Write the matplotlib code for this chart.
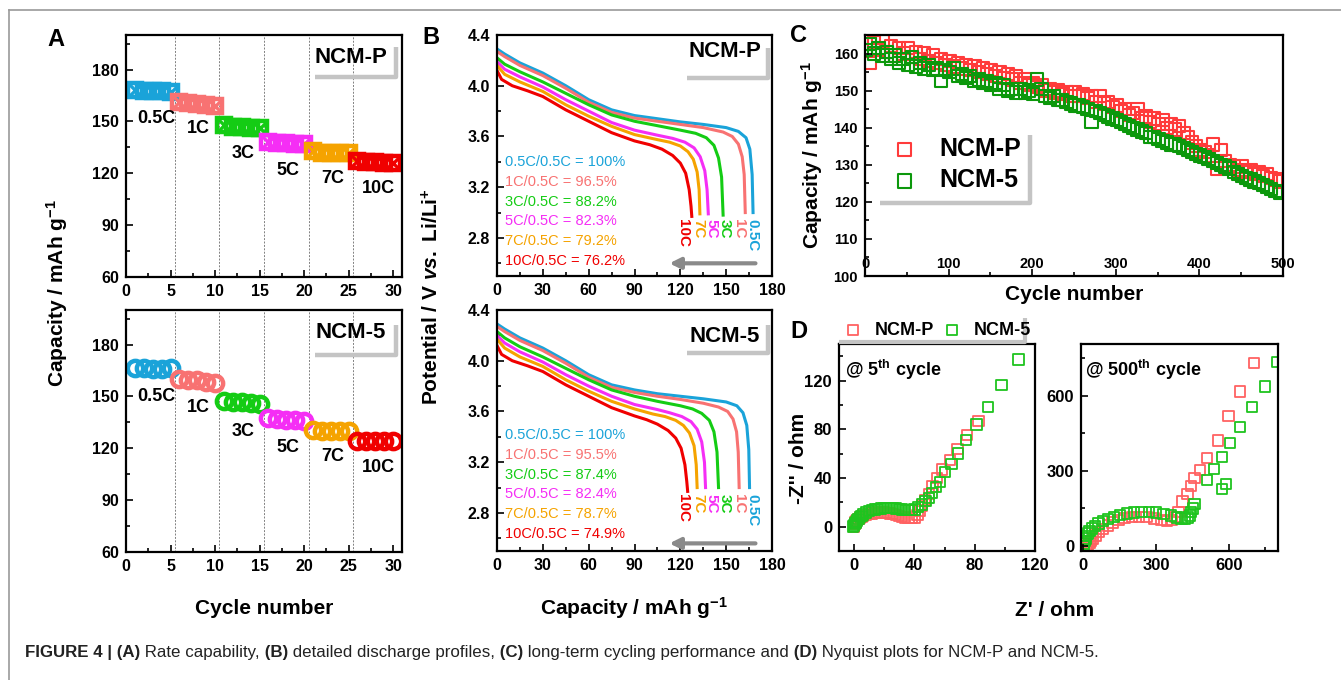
import matplotlib
matplotlib.use("Agg")
import matplotlib.pyplot as plt
import numpy as np
from matplotlib.ticker import MultipleLocator
from matplotlib.lines import Line2D

plt.rcParams["font.family"] = ["Liberation Sans", "DejaVu Sans"]
plt.rcParams["font.weight"] = "bold"
plt.rcParams["axes.labelweight"] = "bold"
plt.rcParams["mathtext.fontset"] = "custom"
plt.rcParams["mathtext.rm"] = "Liberation Sans:bold"
plt.rcParams["mathtext.it"] = "Liberation Sans:italic:bold"
plt.rcParams["mathtext.bf"] = "Liberation Sans:bold"
plt.rcParams["mathtext.default"] = "regular"

# ---------------- data ----------------
rate_labels = ["0.5C", "1C", "3C", "5C", "7C", "10C"]
rate_colors = ["#1aa3d9", "#f87272", "#14cc14", "#f52ef5", "#f5a300", "#f00000"]

# (A) rate capability, 5 cycles per rate
cycles_rate = np.arange(1, 31)
cap_rate_p = [168.0, 167.5, 167.5, 167.5, 167.0,
              161.0, 160.5, 160.0, 159.5, 159.0,
              148.0, 147.0, 146.5, 146.0, 146.0,
              138.0, 137.5, 137.5, 137.0, 137.0,
              133.0, 132.0, 132.0, 131.5, 131.5,
              127.0, 126.5, 126.5, 126.0, 126.0]
cap_rate_5 = [166.5, 166.5, 166.0, 166.0, 166.5,
              160.0, 159.5, 159.5, 158.5, 158.0,
              147.5, 147.0, 146.5, 146.0, 145.5,
              137.5, 137.0, 136.5, 136.5, 136.0,
              130.5, 130.0, 130.0, 130.0, 130.0,
              124.5, 124.5, 124.5, 124.5, 124.5]
rate_bounds = [5.5, 10.5, 15.5, 20.5, 25.5]

# (B) discharge profiles: capacity (mAh/g) and potential (V)
dis_cap_p = [
    [0, 5, 15, 30, 45, 60, 75, 90, 105, 120, 135, 150, 158, 163, 165.5, 167, 167.6],
    [0, 5, 15, 30, 45, 60, 75, 90, 105, 120, 135, 148, 154, 158, 160.5, 161.8, 162.5],
    [0, 5, 15, 30, 45, 60, 75, 90, 105, 120, 130, 137, 142, 145, 147, 148],
    [0, 5, 15, 30, 45, 60, 75, 90, 105, 115, 123, 129, 133, 136, 137.5, 138.3],
    [0, 5, 15, 30, 45, 60, 75, 90, 105, 113, 120, 125, 128.5, 131, 132.3, 132.8],
    [0, 3, 10, 20, 30, 45, 60, 75, 90, 100, 108, 115, 120, 123.5, 125.8, 127, 127.5],
]
dis_v_p = [
    [4.29, 4.25, 4.18, 4.10, 4.00, 3.89, 3.81, 3.765, 3.74, 3.715, 3.695, 3.67, 3.64, 3.59, 3.50, 3.30, 3.00],
    [4.27, 4.23, 4.16, 4.08, 3.98, 3.87, 3.79, 3.745, 3.72, 3.695, 3.67, 3.635, 3.60, 3.54, 3.44, 3.30, 3.00],
    [4.22, 4.17, 4.11, 4.03, 3.94, 3.85, 3.77, 3.72, 3.685, 3.65, 3.625, 3.59, 3.53, 3.43, 3.28, 2.98],
    [4.19, 4.13, 4.07, 3.99, 3.89, 3.80, 3.71, 3.65, 3.61, 3.585, 3.555, 3.51, 3.44, 3.33, 3.18, 2.99],
    [4.16, 4.09, 4.03, 3.955, 3.85, 3.76, 3.68, 3.615, 3.575, 3.555, 3.525, 3.48, 3.42, 3.32, 3.18, 2.99],
    [4.12, 4.05, 4.00, 3.96, 3.915, 3.81, 3.72, 3.63, 3.565, 3.535, 3.50, 3.45, 3.39, 3.31, 3.18, 3.05, 2.97],
]
dis_cap_5 = [
    [0, 5, 15, 30, 45, 60, 75, 90, 105, 120, 135, 150, 157, 161, 163.5, 164.8, 165.3],
    [0, 5, 15, 30, 45, 60, 75, 90, 105, 120, 135, 145, 151, 154.5, 156.8, 157.9, 158.5],
    [0, 5, 15, 30, 45, 60, 75, 90, 105, 120, 128, 134, 139, 142, 144, 145],
    [0, 5, 15, 30, 45, 60, 75, 90, 105, 113, 121, 127, 131, 134, 135.8, 136.5],
    [0, 5, 15, 30, 45, 60, 75, 90, 102, 110, 117, 122, 126, 129, 130.4, 131],
    [0, 3, 10, 20, 30, 45, 60, 75, 90, 98, 105, 112, 117, 120.5, 123, 124.2, 124.8],
]
dis_v_5 = [
    [4.29, 4.25, 4.18, 4.10, 4.00, 3.89, 3.81, 3.77, 3.74, 3.72, 3.70, 3.675, 3.645, 3.59, 3.49, 3.30, 3.00],
    [4.27, 4.23, 4.16, 4.08, 3.98, 3.87, 3.79, 3.75, 3.72, 3.695, 3.665, 3.635, 3.60, 3.54, 3.44, 3.28, 3.00],
    [4.23, 4.18, 4.11, 4.03, 3.94, 3.85, 3.77, 3.72, 3.68, 3.645, 3.62, 3.585, 3.53, 3.44, 3.28, 3.00],
    [4.20, 4.14, 4.07, 3.99, 3.89, 3.80, 3.72, 3.655, 3.615, 3.59, 3.56, 3.52, 3.46, 3.36, 3.20, 3.00],
    [4.17, 4.10, 4.03, 3.955, 3.85, 3.76, 3.68, 3.62, 3.58, 3.56, 3.53, 3.49, 3.43, 3.33, 3.18, 3.00],
    [4.12, 4.05, 4.00, 3.96, 3.915, 3.81, 3.72, 3.63, 3.565, 3.535, 3.50, 3.45, 3.39, 3.31, 3.18, 3.05, 2.97],
]
ratio_p = ["0.5C/0.5C = 100%", "1C/0.5C = 96.5%", "3C/0.5C = 88.2%",
           "5C/0.5C = 82.3%", "7C/0.5C = 79.2%", "10C/0.5C = 76.2%"]
ratio_5 = ["0.5C/0.5C = 100%", "1C/0.5C = 95.5%", "3C/0.5C = 87.4%",
           "5C/0.5C = 82.4%", "7C/0.5C = 78.7%", "10C/0.5C = 74.9%"]

# (C) long-term cycling, every 5th cycle
cyc_long_p = [162.5, 157.5, 163.0, 161.0, 163.5, 160.5, 162.0, 159.5, 161.5, 160.0,
              161.5, 159.0, 160.5, 158.5, 160.0, 158.0, 159.5, 157.5, 158.5, 157.0,
              158.0, 156.5, 157.5, 156.0, 157.0, 155.5, 156.5, 155.0, 156.0, 154.5,
              155.5, 154.0, 155.0, 153.5, 154.5, 153.0, 154.0, 152.0, 153.0, 151.5,
              152.0, 151.0, 151.5, 150.0, 150.5, 149.5, 150.0, 149.0, 149.5, 148.5,
              149.5, 148.5, 149.0, 148.0, 148.5, 147.0, 148.5, 146.5, 147.0, 145.5,
              146.0, 144.5, 145.0, 143.5, 144.0, 145.0, 142.5, 143.0, 141.5, 142.5,
              141.0, 142.0, 140.0, 141.0, 139.5, 140.5, 138.5, 137.5, 136.0, 135.0,
              134.0, 133.5, 132.5, 135.5, 129.0, 134.0, 131.0, 130.0, 129.5, 128.5,
              129.5, 128.0, 128.5, 127.5, 128.0, 127.0, 127.5, 126.5, 126.0, 125.5]
cyc_long_5 = [161.0, 162.5, 160.0, 161.5, 159.5, 160.5, 158.5, 159.5, 157.5, 158.5,
              157.0, 159.0, 156.5, 157.5, 156.0, 157.0, 155.5, 156.0, 152.5, 155.5,
              155.0, 156.0, 154.0, 154.5, 153.5, 154.0, 152.5, 153.0, 152.0, 152.5,
              151.5, 152.0, 150.5, 151.5, 150.0, 150.5, 149.5, 150.5, 149.5, 150.0,
              149.0, 153.0, 150.5, 148.5, 148.0, 148.5, 147.5, 147.5, 147.0, 146.5,
              146.0, 146.0, 145.5, 145.0, 141.5, 144.5, 144.0, 143.5, 143.0, 142.5,
              142.0, 141.5, 141.0, 140.5, 140.0, 139.5, 139.0, 138.5, 137.5, 137.5,
              137.0, 136.5, 136.0, 135.5, 135.5, 135.0, 134.5, 134.0, 133.5, 133.0,
              132.5, 132.0, 131.5, 131.0, 130.5, 130.0, 129.5, 129.0, 128.0, 127.5,
              127.0, 126.5, 126.0, 125.5, 125.0, 124.5, 124.0, 123.5, 123.0, 122.5]
cycles_long = np.arange(1, 5 * len(cyc_long_p) + 1, 5)

# (D) Nyquist, 5th cycle
zre_p5 = [0, 0.5, 1, 1.5, 2, 3, 4, 5, 6, 8, 10, 12, 14, 16, 18, 20, 22, 24, 26, 28,
          30, 32, 34, 36, 38,
          40, 42, 43.5, 45, 47, 49.5, 52, 55, 58.5, 63.5, 68.5, 75, 82.5]
zim_p5 = [0, 2, 3.5, 4.5, 5.5, 6.5, 7.5, 8, 8.5, 9.5, 10.2, 10.8, 11.2, 11.5, 11.6, 11.5, 11.2, 10.8, 10.2, 9.5,
          8.8, 8, 7.4, 7, 7,
          7.5, 9.5, 13, 17, 22, 27, 33, 40, 47, 55, 64, 75, 87]
zre_55 = [-0.5, 0, 0.5, 1, 1.5, 2, 3, 4, 5, 6, 8, 10, 12, 14, 16, 18, 20, 22, 24, 26,
          28, 30, 32, 34, 36, 38, 40, 42.5, 45, 47.3, 49.6, 51.8, 54.4, 57.1, 60.4, 64.6,
          68.9, 74.4, 81.1, 88.9, 97.8, 109.1]
zim_55 = [0, 1, 2, 3, 4, 5, 6.5, 8, 9, 10, 11.5, 12.8, 13.6, 14.2, 14.7, 15, 15.2, 15.3, 15.3, 15.2,
          15, 14.6, 14.2, 13.8, 13.5, 13.5, 14.2, 16.3, 18.2, 20.8, 23.8, 27.6, 32.4, 36.9, 44.7, 51.3,
          60.1, 71.0, 83.8, 98.3, 116.6, 137.2]
# (D) Nyquist, 500th cycle
zre_p500 = [15, 20, 25, 30, 40, 50, 65, 80, 100, 120, 145, 170, 200, 230, 260, 290, 320, 345,
            365, 380, 392, 409, 430, 445, 459, 482, 510, 556, 599, 647, 705]
zim_p500 = [0, 5, 12, 20, 30, 42, 55, 68, 82, 94, 104, 111, 116, 117, 115, 110, 104, 101,
            103, 115, 135, 177, 207, 239, 270, 303, 352, 421, 519, 616, 729]
zre_5500 = [0, 2, 5, 8, 12, 18, 25, 35, 48, 62, 80, 100, 125, 150, 180, 210, 240, 270, 300, 330,
            360, 385, 405, 420, 432, 440, 445, 452, 459, 510, 538, 571, 572, 589, 606, 647, 695, 750, 798]
zim_5500 = [0, 10, 20, 30, 40, 50, 60, 70, 80, 90, 100, 108, 116, 123, 130, 134, 136, 136, 134, 129,
            122, 114, 110, 110, 114, 122, 135, 150, 168, 263, 306, 355, 227, 246, 412, 476, 556, 636, 735]

# ---------------- layout helpers ----------------
W, H = 1341, 680
fig = plt.figure(figsize=(W / 100, H / 100), dpi=100)


def px_axes(l, t, r, b):
    return fig.add_axes([l / W, 1 - b / H, (r - l) / W, (b - t) / H])


def style(ax, fs):
    for s in ax.spines.values():
        s.set_linewidth(1.6)
    ax.tick_params(which="both", direction="in", top=False, right=False,
                   width=1.2, labelsize=fs, pad=5)
    ax.tick_params(which="major", length=5)
    ax.tick_params(which="minor", length=3)


def shadow(ax, x0, x1, y0, y1):
    ax.plot([x0, x1, x1], [y0, y0, y1], transform=ax.transAxes, color="#c4c4c4",
            lw=3.2, solid_capstyle="butt", clip_on=False)


# ---------------- (A) ----------------
lab_pos_a_p = [(3.4, 151.7), (8.1, 145.9), (13.2, 131.4), (18.2, 121.8), (23.2, 117.0), (28.3, 111.2)]
lab_pos_a_5 = [(3.4, 149.9), (8.1, 143.7), (13.2, 129.9), (18.2, 120.2), (23.2, 115.0), (28.3, 109.0)]

for top, vals, name, mk, lpos in [(35, cap_rate_p, "NCM-P", "s", lab_pos_a_p),
                                  (310, cap_rate_5, "NCM-5", "o", lab_pos_a_5)]:
    ax = px_axes(126, top, 402, top + 242)
    for xb in rate_bounds:
        ax.axvline(xb, color="#808080", lw=0.7, ls=(0, (2, 1.5)), zorder=0)
    for i in range(6):
        xs = cycles_rate[5 * i:5 * i + 5]
        ys = vals[5 * i:5 * i + 5]
        if mk == "s":
            ax.plot(xs, ys, ls="none", marker="s", ms=10.5, mfc="none", mec=rate_colors[i], mew=3.2)
            ax.plot(xs, ys, ls="none", marker="x", ms=9, mec=rate_colors[i], mew=2.4)
        else:
            ax.plot(xs, ys, ls="none", marker="o", ms=11, mfc="none", mec=rate_colors[i], mew=3.2)
        ax.text(lpos[i][0], lpos[i][1], rate_labels[i], ha="center", va="center", fontsize=13)
    ax.set_xlim(0, 31)
    ax.set_ylim(60, 200)
    ax.xaxis.set_major_locator(MultipleLocator(5))
    ax.xaxis.set_minor_locator(MultipleLocator(2.5))
    ax.yaxis.set_major_locator(MultipleLocator(30))
    ax.yaxis.set_minor_locator(MultipleLocator(15))
    style(ax, 11.5)
    ax.text(0.815, 0.905, name, transform=ax.transAxes, ha="center", va="center", fontsize=16)
    shadow(ax, 0.685, 0.98, 0.825 if top == 35 else 0.816, 0.952 if top == 35 else 0.938)

fig.text(57 / W, 1 - 293 / H, "Capacity / mAh g$^{-1}$", rotation=90, ha="center", va="center", fontsize=15)
fig.text(264 / W, 1 - 608 / H, "Cycle number", ha="center", va="center", fontsize=15)

# ---------------- (B) ----------------
end_lab_x = [167.0, 158.4, 149.2, 140.6, 131.8, 122.0]
for top, caps, vs, ratios, name in [(35, dis_cap_p, dis_v_p, ratio_p, "NCM-P"),
                                    (310, dis_cap_5, dis_v_5, ratio_5, "NCM-5")]:
    ax = px_axes(497, top, 772, top + 241)
    y0 = 0.474 if top == 35 else 0.482
    for i in range(6):
        ax.plot(caps[i], vs[i], color=rate_colors[i], lw=2.2, solid_joinstyle="round")
        ax.text(end_lab_x[i], 2.95, rate_labels[i], rotation=-90, ha="center", va="top",
                color=rate_colors[i], fontsize=11, linespacing=0.9)
        ax.text(0.03, y0 - i * 0.0825, ratios[i], transform=ax.transAxes, ha="left", va="center",
                color=rate_colors[i], fontsize=10.5, fontweight="normal")
    ax.annotate("", xy=(111, 2.6 if top == 35 else 2.56), xytext=(171, 2.6 if top == 35 else 2.56),
                arrowprops=dict(arrowstyle="-|>", color="#8a8a8a", lw=3, mutation_scale=16))
    ax.set_xlim(0, 180)
    ax.set_ylim(2.5, 4.4)
    ax.xaxis.set_major_locator(MultipleLocator(30))
    ax.xaxis.set_minor_locator(MultipleLocator(15))
    ax.yaxis.set_major_locator(MultipleLocator(0.4))
    ax.yaxis.set_minor_locator(MultipleLocator(0.2))
    style(ax, 11.5)
    ax.text(0.829, 0.93 if top == 35 else 0.889, name, transform=ax.transAxes,
            ha="center", va="center", fontsize=16)
    shadow(ax, 0.69, 0.987, 0.82, 0.945 if top == 35 else 0.938)

fig.text(432 / W, 1 - 297 / H, "Potential / V $\\mathit{vs.}$ Li/Li$^{+}$", rotation=90,
         ha="center", va="center", fontsize=15)
fig.text(634 / W, 1 - 608 / H, "Capacity / mAh g$^{-1}$", ha="center", va="center", fontsize=15)

# ---------------- (C) ----------------
axc = px_axes(865, 35, 1283, 276)
axc.scatter(cycles_long, cyc_long_p, s=78, marker="s", facecolors="none", edgecolors="#ff3b3b",
            linewidths=1.5, label="NCM-P")
axc.scatter(cycles_long, cyc_long_5, s=78, marker="s", facecolors="none", edgecolors="#0c980c",
            linewidths=1.5, label="NCM-5")
axc.set_xlim(0, 500)
axc.set_ylim(100, 165)
axc.xaxis.set_major_locator(MultipleLocator(100))
axc.xaxis.set_minor_locator(MultipleLocator(50))
axc.yaxis.set_major_locator(MultipleLocator(10))
axc.yaxis.set_minor_locator(MultipleLocator(5))
style(axc, 10.5)
axc.tick_params(axis="x", which="both", pad=-13.5)
axc.legend(loc="center left", bbox_to_anchor=(0.064, 0.462), frameon=False, borderaxespad=0,
           borderpad=0, handlelength=1.0, handletextpad=0.9, labelspacing=0.3, markerscale=1.1,
           prop=dict(size=18, weight="bold"))
shadow(axc, 0.036, 0.395, 0.303, 0.585)
fig.text(812 / W, 1 - 155 / H, "Capacity / mAh g$^{-1}$", rotation=90, ha="center", va="center", fontsize=15)
fig.text(1074 / W, 1 - 295 / H, "Cycle number", ha="center", va="center", fontsize=15)

# ---------------- (D) ----------------
axd1 = px_axes(839, 344, 1035, 551)
hp = axd1.scatter(zre_p5, zim_p5, s=55, marker="s", facecolors="none", edgecolors="#ff6262",
                  linewidths=1.3, label="NCM-P")
h5 = axd1.scatter(zre_55, zim_55, s=55, marker="s", facecolors="none", edgecolors="#1fc41f",
                  linewidths=1.3, label="NCM-5")
axd1.set_xlim(-10, 120)
axd1.set_ylim(-20, 150)
axd1.xaxis.set_major_locator(MultipleLocator(40))
axd1.xaxis.set_minor_locator(MultipleLocator(20))
axd1.yaxis.set_major_locator(MultipleLocator(40))
axd1.yaxis.set_minor_locator(MultipleLocator(20))
style(axd1, 12)
axd1.text(0.03, 0.874, "@ 5$^{th}$ cycle", transform=axd1.transAxes, ha="left", va="center", fontsize=13)

axd2 = px_axes(1081, 344, 1278, 551)
axd2.scatter(zre_p500, zim_p500, s=55, marker="s", facecolors="none", edgecolors="#ff6262", linewidths=1.3)
axd2.scatter(zre_5500, zim_5500, s=55, marker="s", facecolors="none", edgecolors="#1fc41f", linewidths=1.3)
axd2.set_xlim(-10, 803)
axd2.set_ylim(-20, 806)
axd2.xaxis.set_major_locator(MultipleLocator(300))
axd2.xaxis.set_minor_locator(MultipleLocator(150))
axd2.yaxis.set_major_locator(MultipleLocator(300))
axd2.yaxis.set_minor_locator(MultipleLocator(150))
style(axd2, 12)
axd2.text(0.02, 0.874, "@ 500$^{th}$ cycle", transform=axd2.transAxes, ha="left", va="center", fontsize=13)

fig.legend(handles=[hp, h5], loc="center left", bbox_to_anchor=(846 / W, 1 - 330 / H), ncol=2,
           frameon=False, borderaxespad=0, borderpad=0, handlelength=0.8, handletextpad=0.8,
           columnspacing=0.6, prop=dict(size=13, weight="bold"))
fig.add_artist(Line2D([839 / W, 1025 / W, 1025 / W], [1 - 342 / H, 1 - 342 / H, 1 - 318 / H],
                      color="#c4c4c4", lw=3, solid_capstyle="butt"))
fig.text(798 / W, 1 - 458 / H, "-Z'' / ohm", rotation=90, ha="center", va="center", fontsize=15)
fig.text(1055 / W, 1 - 610 / H, "Z' / ohm", ha="center", va="center", fontsize=15)

# ---------------- panel letters, frame, caption ----------------
for letter, xp, yp in [("A", 47, 39), ("B", 422, 38), ("C", 790, 36), ("D", 790, 331)]:
    fig.text(xp / W, 1 - yp / H, letter, ha="left", va="center", fontsize=17)

fig.add_artist(Line2D([9 / W, 1], [1 - 10 / H, 1 - 10 / H], color="#9a9a9a", lw=1.2))
fig.add_artist(Line2D([9 / W, 9 / W], [1 - 10 / H, 0], color="#9a9a9a", lw=1.2))

caption = [("FIGURE 4 |", "bold"), (" (A)", "bold"), (" Rate capability,", "normal"),
           (" (B)", "bold"), (" detailed discharge profiles,", "normal"), (" (C)", "bold"),
           (" long-term cycling performance and", "normal"), (" (D)", "bold"),
           (" Nyquist plots for NCM-P and NCM-5.", "normal")]
renderer = fig.canvas.get_renderer()
xc = 25 / W
for txt, wt in caption:
    t = fig.text(xc, 1 - 652 / H, txt, ha="left", va="center", fontsize=12.2, fontweight=wt, color="#222222")
    xc = t.get_window_extent(renderer=renderer).x1 / W

fig.savefig("out.png", dpi=100)
